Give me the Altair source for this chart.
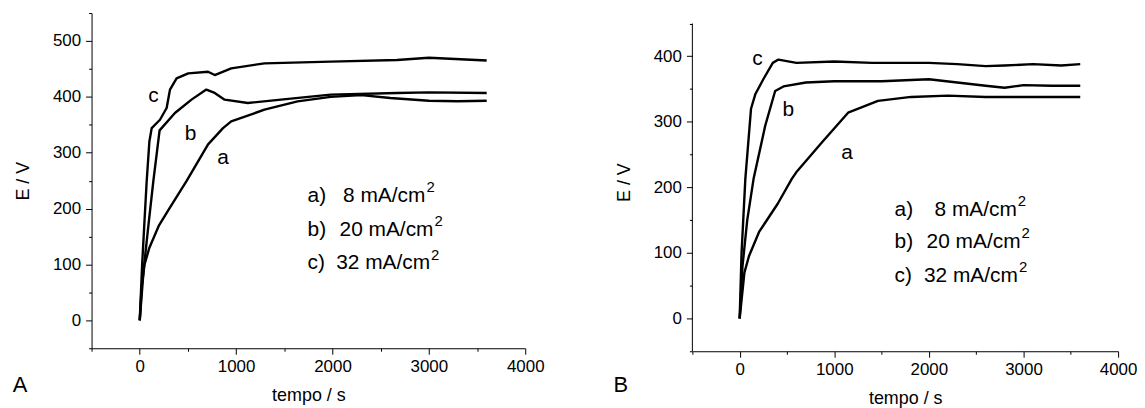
import altair as alt
import pandas as pd

# ---------------- Panel A data (tempo / s, E / V) ----------------
A_a_t = [0, 20, 50, 100, 200, 300, 485, 709, 864, 949, 1294, 1638, 1981, 2300, 2600, 3000, 3300, 3600]
A_a_E = [0, 60, 100, 130, 170, 198, 249, 315, 344, 356, 377, 392, 400, 403, 398, 393, 392, 393]
A_b_t = [0, 40, 90, 141, 206, 365, 537, 691, 778, 881, 1122, 1465, 1981, 2670, 3000, 3600]
A_b_E = [0, 90, 170, 249, 340, 371, 395, 413, 407, 395, 389, 395, 404, 407, 408, 407]
A_c_t = [0, 25, 50, 72, 100, 124, 210, 279, 314, 382, 503, 709, 778, 949, 1294, 1981, 2670, 3000, 3600]
A_c_E = [0, 100, 180, 249, 320, 344, 359, 380, 413, 433, 442, 445, 439, 451, 460, 463, 466, 470, 465]

# ---------------- Panel B data ----------------
B_a_t = [0, 50, 98, 205, 402, 551, 598, 866, 1146, 1462, 1813, 2200, 2600, 3000, 3600]
B_a_E = [0, 70, 95, 132, 175, 213, 223, 268, 314, 332, 338, 340, 338, 338, 338]
B_b_t = [0, 30, 80, 147, 270, 375, 463, 700, 1000, 1500, 2000, 2300, 2600, 2800, 3000, 3300, 3600]
B_b_E = [0, 80, 150, 213, 294, 347, 354, 360, 362, 362, 365, 360, 355, 352, 356, 355, 355]
B_c_t = [0, 20, 60, 120, 165, 250, 350, 410, 600, 1000, 1400, 1700, 2000, 2300, 2600, 2800, 3100, 3400, 3600]
B_c_E = [0, 100, 213, 320, 342, 365, 390, 395, 390, 392, 390, 390, 390, 388, 385, 386, 388, 386, 388]

# curve labels (letter, t, E at baseline)
A_lab = ["c", "b", "a"]
A_lab_t = [142, 526, 864]
A_lab_E = [390, 322, 280]
B_lab = ["c", "b", "a"]
B_lab_t = [189, 515, 1136]
B_lab_E = [387, 309, 243]

# legend rows
leg_keys = ["a)", "b)", "c)"]
leg_vals = ["8 mA/cm", "20 mA/cm", "32 mA/cm"]
A_leg_x0 = 1741
A_leg_x1 = [2964, 3048, 3013]
A_leg_E = [211, 151, 91]
B_leg_x0 = 1637
B_leg_x1 = [2930, 2969, 2941]
B_leg_E = [157, 107, 56]

# ticks
x_major = [0, 1000, 2000, 3000, 4000]
x_minor = [-500, 500, 1500, 2500, 3500]
A_y_major = [0, 100, 200, 300, 400, 500]
A_y_minor = [-50, 50, 150, 250, 350, 450, 550]
B_y_major = [0, 100, 200, 300, 400]
B_y_minor = [-50, 50, 150, 250, 350, 450]

FONT = "Liberation Sans"


def curves_df(ts, Es, names):
    rows = []
    for t_list, e_list, n in zip(ts, Es, names):
        for i, (t, e) in enumerate(zip(t_list, e_list)):
            rows.append({"t": t, "E": e, "curve": n, "i": i})
    return pd.DataFrame(rows)


def panel(ts, Es, lab, lab_t, lab_E, leg_x0, leg_x1, leg_E, ydom, ymaj, ymin, w, h, letter, draw_domain):
    xs = alt.Scale(domain=[-500, 4000], nice=False, zero=False)
    ys = alt.Scale(domain=ydom, nice=False, zero=False)
    xaxis = alt.Axis(values=x_major, format="d", tickSize=6, orient="bottom",
                     labelFlush=False, labelOverlap=False, labelBound=False,
                     title="tempo / s", grid=False, labelPadding=4, titlePadding=13)
    yaxis = alt.Axis(values=ymaj, format="d", tickSize=6, orient="left", domain=draw_domain,
                     labelFlush=False, labelOverlap=False, labelBound=False,
                     title="E / V", grid=False, labelPadding=5, titlePadding=20)
    xminax = alt.Axis(values=x_minor, tickSize=3, orient="bottom", labels=False,
                      domain=False, title=None, grid=False)
    yminax = alt.Axis(values=ymin, tickSize=3, orient="left", labels=False,
                      domain=False, title=None, grid=False)

    df = curves_df(ts, Es, ["a", "b", "c"])
    lines = alt.Chart(df).mark_line(color="black", strokeWidth=2.4, strokeJoin="round").encode(
        x=alt.X("t:Q", scale=xs, axis=xaxis),
        y=alt.Y("E:Q", scale=ys, axis=yaxis),
        detail="curve:N",
        order="i:Q",
    )
    labdf = pd.DataFrame({"t": lab_t, "E": lab_E, "txt": lab})
    labels = alt.Chart(labdf).mark_text(font=FONT, fontSize=21, align="center", baseline="alphabetic", color="black").encode(
        x=alt.X("t:Q", scale=xs, axis=xminax), y=alt.Y("E:Q", scale=ys, axis=yminax), text="txt:N")
    kdf = pd.DataFrame({"t": [leg_x0] * 3, "E": leg_E, "txt": leg_keys})
    keys = alt.Chart(kdf).mark_text(font=FONT, fontSize=21, align="left", baseline="alphabetic", color="black").encode(
        x=alt.X("t:Q", scale=xs, axis=None), y=alt.Y("E:Q", scale=ys, axis=None), text="txt:N")
    vdf = pd.DataFrame({"t": leg_x1, "E": leg_E, "txt": leg_vals})
    vals = alt.Chart(vdf).mark_text(font=FONT, fontSize=21, align="right", baseline="alphabetic", color="black").encode(
        x=alt.X("t:Q", scale=xs, axis=None), y=alt.Y("E:Q", scale=ys, axis=None), text="txt:N")
    sdf = pd.DataFrame({"t": leg_x1, "E": leg_E, "txt": ["2", "2", "2"]})
    sup = alt.Chart(sdf).mark_text(font=FONT, fontSize=15, align="left", baseline="alphabetic", dx=1, dy=-10, color="black").encode(
        x=alt.X("t:Q", scale=xs, axis=None), y=alt.Y("E:Q", scale=ys, axis=None), text="txt:N")
    let = alt.Chart(pd.DataFrame({"txt": [letter]})).mark_text(
        font=FONT, fontSize=22, align="center", baseline="alphabetic", color="black").encode(
        x=alt.value(-72), y=alt.value(381), text="txt:N")
    layers = [lines, labels, keys, vals, sup, let]
    if not draw_domain:
        ddf = pd.DataFrame({"t": [-500], "E": [ymin[0]], "E2": [ymin[-1]]})
        dom = alt.Chart(ddf).mark_rule(color="black", strokeWidth=1).encode(
            x=alt.X("t:Q", scale=xs, axis=None), y=alt.Y("E:Q", scale=ys, axis=None), y2="E2:Q")
        layers.append(dom)
    return alt.layer(*layers).resolve_axis(x="independent", y="independent").properties(width=w, height=h)


left = panel([A_a_t, A_b_t, A_c_t], [A_a_E, A_b_E, A_c_E], A_lab, A_lab_t, A_lab_E,
             A_leg_x0, A_leg_x1, A_leg_E, [-50, 550], A_y_major, A_y_minor, 436, 337, "A", True)
right = panel([B_a_t, B_b_t, B_c_t], [B_a_E, B_b_E, B_c_E], B_lab, B_lab_t, B_lab_E,
              B_leg_x0, B_leg_x1, B_leg_E, [-50, 466], B_y_major, B_y_minor, 428, 340, "B", False)

chart = alt.hconcat(left, right, spacing=168, bounds="flush").properties(
    padding={"left": 4, "top": 3, "right": 0, "bottom": 0},
    background="white",
).configure_view(stroke=None).configure_axis(
    domainColor="black", tickColor="black", labelColor="black", titleColor="black",
    labelFont=FONT, titleFont=FONT, labelFontSize=17, titleFontSize=18,
    titleFontWeight="normal", domainWidth=1, tickWidth=1,
)

chart.save("out.html", embed_options={"renderer": "svg", "actions": False})
